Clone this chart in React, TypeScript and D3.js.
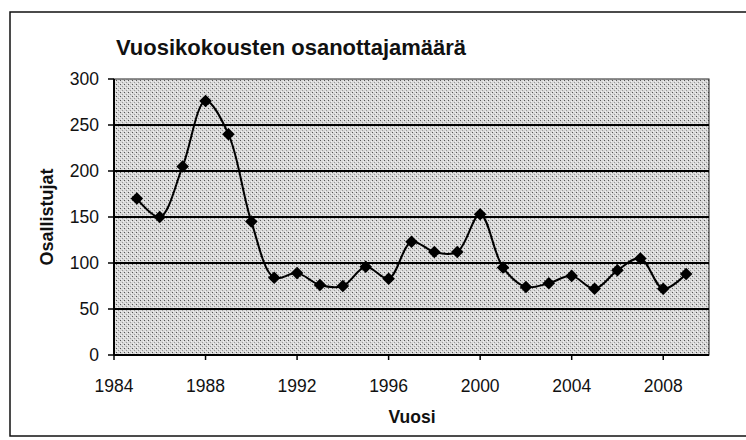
import React from "react";
import * as d3 from "d3";

const years = [1985, 1986, 1987, 1988, 1989, 1990, 1991, 1992, 1993, 1994, 1995, 1996, 1997, 1998, 1999, 2000, 2001, 2002, 2003, 2004, 2005, 2006, 2007, 2008, 2009];
const participants = [170, 150, 205, 276, 240, 145, 84, 89, 76, 75, 96, 83, 123, 112, 112, 153, 95, 74, 78, 86, 72, 92, 105, 72, 88];
const xTicks = [1984, 1988, 1992, 1996, 2000, 2004, 2008];
const yTicks = [0, 50, 100, 150, 200, 250, 300];
const title = "Vuosikokousten osanottajamäärä";
const xTitle = "Vuosi";
const yTitle = "Osallistujat";

export default function App() {
  const x = d3.scaleLinear().domain([1984, 2010]).range([114, 709]);
  const y = d3.scaleLinear().domain([0, 300]).range([355, 79]);
  const pts = years.map((yr, i) => [yr, participants[i]] as [number, number]);
  const line = d3
    .line<[number, number]>()
    .x((d) => x(d[0]))
    .y((d) => y(d[1]))
    .curve(d3.curveCatmullRom.alpha(0.5));
  const font = "'Liberation Sans', Arial, sans-serif";
  const [x0, x1] = x.range();
  const [yb, yt] = y.range();
  return (
    <svg width={746} height={440} style={{ position: "absolute", left: 0, top: 0, background: "#fff" }}>
      <defs>
        <pattern id="speck" width={4} height={4} patternUnits="userSpaceOnUse">
          <rect width={4} height={4} fill="#d8d8d8" />
          <rect x={0} y={0} width={1} height={1} fill="#555" />
          <rect x={2} y={2} width={1} height={1} fill="#999" />
          <rect x={3} y={1} width={1} height={1} fill="#f2f2f2" />
          <rect x={1} y={3} width={1} height={1} fill="#f2f2f2" />
        </pattern>
      </defs>
      {/* outer frame */}
      <rect x={10} y={12} width={760} height={424} fill="none" stroke="#111" strokeWidth={1.5} />
      <text x={116} y={55} fontFamily={font} fontWeight="bold" fontSize={22} fill="#111">
        {title}
      </text>
      {/* plot area */}
      <rect x={x0} y={yt} width={x1 - x0} height={yb - yt} fill="url(#speck)" stroke="#222" strokeWidth={1} />
      {yTicks.filter((t) => t > 0 && t < 300).map((t) => (
        <line key={"g" + t} x1={x0} x2={x1} y1={y(t)} y2={y(t)} stroke="#000" strokeWidth={2} />
      ))}
      {/* y axis */}
      <line x1={x0} x2={x0} y1={yt} y2={yb} stroke="#000" strokeWidth={2} />
      {yTicks.map((t) => (
        <g key={"y" + t}>
          <line x1={x0 - 6} x2={x0} y1={y(t)} y2={y(t)} stroke="#000" strokeWidth={1.5} />
          <text x={x0 - 15} y={y(t)} dy="0.36em" textAnchor="end" fontFamily={font} fontSize={17.5} fill="#111">
            {t}
          </text>
        </g>
      ))}
      {/* x axis */}
      <line x1={x0} x2={x1} y1={yb} y2={yb} stroke="#000" strokeWidth={2} />
      {xTicks.map((t) => (
        <g key={"x" + t}>
          <line x1={x(t)} x2={x(t)} y1={yb} y2={yb + 5} stroke="#000" strokeWidth={1.5} />
          <text x={x(t)} y={392} textAnchor="middle" fontFamily={font} fontSize={17.5} fill="#111">
            {t}
          </text>
        </g>
      ))}
      <text x={412} y={423} textAnchor="middle" fontFamily={font} fontWeight="bold" fontSize={17.5} fill="#111">
        {xTitle}
      </text>
      <text
        transform={`translate(53,${(yt + yb) / 2}) rotate(-90)`}
        textAnchor="middle"
        fontFamily={font}
        fontWeight="bold"
        fontSize={18}
        fill="#111"
      >
        {yTitle}
      </text>
      <path d={line(pts) ?? ""} fill="none" stroke="#000" strokeWidth={2} />
      {pts.map((d, i) => (
        <path
          key={"m" + i}
          transform={`translate(${x(d[0])},${y(d[1])})`}
          d={d3.symbol(d3.symbolDiamond2, 100)() ?? ""}
          fill="#000"
        />
      ))}
    </svg>
  );
}
